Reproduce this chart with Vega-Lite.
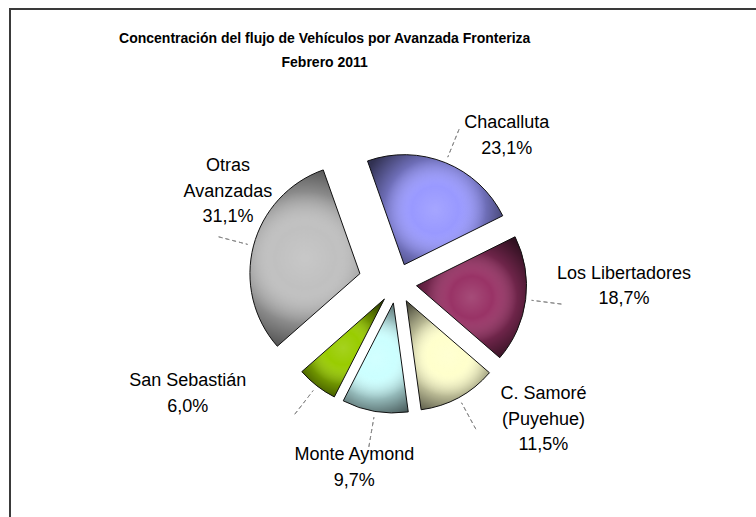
{
  "$schema": "https://vega.github.io/schema/vega-lite/v6.json",
  "width": 773.4,
  "height": 548.4,
  "autosize": {"type": "none"},
  "padding": {"left": 10, "top": 9, "right": -27.4, "bottom": -40.4},
  "background": "white",
  "view": {"stroke": "#3a3a3a", "strokeWidth": 2, "fill": null},
  "config": {"view": {"stroke": "#3a3a3a", "strokeWidth": 2}, "font": "Liberation Sans"},
  "title": {
    "text": ["Concentración del flujo de Vehículos por Avanzada Fronteriza", "Febrero 2011"],
    "font": "Liberation Sans",
    "fontSize": 14,
    "fontWeight": "bold",
    "color": "black",
    "anchor": "middle",
    "frame": "group",
    "dx": -72,
    "dy": 65,
    "lineHeight": 24
  },
  "data": {
    "values": [
      {"avanzada": "Chacalluta", "etiqueta": "Chacalluta", "pct": 23.1, "orden": 1},
      {"avanzada": "Los Libertadores", "etiqueta": "Los Libertadores", "pct": 18.7, "orden": 2},
      {"avanzada": "C. Samoré (Puyehue)", "etiqueta": "C. Samoré\n(Puyehue)", "pct": 11.5, "orden": 3},
      {"avanzada": "Monte Aymond", "etiqueta": "Monte Aymond", "pct": 9.7, "orden": 4},
      {"avanzada": "San Sebastián", "etiqueta": "San Sebastián", "pct": 6.0, "orden": 5},
      {"avanzada": "Otras Avanzadas", "etiqueta": "Otras\nAvanzadas", "pct": 31.1, "orden": 6}
    ]
  },
  "transform": [
    {"stack": "pct", "groupby": [], "sort": [{"field": "orden", "order": "ascending"}], "as": ["p0", "p1"]},
    {"calculate": "(datum.p0 + datum.p1) / 2", "as": "pm"},
    {"calculate": "datum.etiqueta + '\\n' + replace(format(datum.pct, '.1f'), '.', ',') + '%'", "as": "rotulo"}
  ],
  "layer": [
    {
      "mark": {
        "type": "arc",
        "radius": 110,
        "xOffset": {"expr": "sin(-0.34 + 2*PI*datum.pm/100.1) * (datum.avanzada === 'Otras Avanzadas' ? 38 : 20)"},
        "yOffset": {"expr": "-cos(-0.34 + 2*PI*datum.pm/100.1) * (datum.avanzada === 'Otras Avanzadas' ? 38 : 20)"}
      },
      "encoding": {
        "theta": {"field": "p0", "type": "quantitative", "scale": {"domain": [0, 100.1], "range": [-0.34, 5.9432]}},
        "theta2": {"field": "p1"},
        "color": {
          "field": "avanzada",
          "type": "nominal",
          "legend": null,
          "scale": {
            "domain": ["Chacalluta", "Los Libertadores", "C. Samoré (Puyehue)", "Monte Aymond", "San Sebastián", "Otras Avanzadas"],
            "range": ["#9999FF", "#993366", "#FFFFCC", "#CCFFFF", "#99CC00", "#C0C0C0"]
          }
        }
      }
    },
    {
      "mark": {
        "type": "arc",
        "radius": 110,
        "stroke": "#111111",
        "strokeWidth": 1,
        "fill": {
          "gradient": "radial",
          "x1": 0.5, "y1": 0.5, "r1": 0,
          "x2": 0.5, "y2": 0.5, "r2": 0.58,
          "stops": [
            {"offset": 0, "color": "rgba(255,255,255,0.12)"},
            {"offset": 0.3, "color": "rgba(255,255,255,0)"},
            {"offset": 0.65, "color": "rgba(0,0,0,0.28)"},
            {"offset": 1, "color": "rgba(0,0,0,0.68)"}
          ]
        },
        "xOffset": {"expr": "sin(-0.34 + 2*PI*datum.pm/100.1) * (datum.avanzada === 'Otras Avanzadas' ? 38 : 20)"},
        "yOffset": {"expr": "-cos(-0.34 + 2*PI*datum.pm/100.1) * (datum.avanzada === 'Otras Avanzadas' ? 38 : 20)"}
      },
      "encoding": {
        "theta": {"field": "p0", "type": "quantitative", "scale": {"domain": [0, 100.1], "range": [-0.34, 5.9432]}},
        "theta2": {"field": "p1"}
      }
    },
    {
      "mark": {
        "type": "arc",
        "radius": 146,
        "radius2": 116,
        "fill": null,
        "stroke": "#8c8c8c",
        "strokeWidth": 1,
        "strokeDash": [4, 3],
        "xOffset": {"expr": "sin(-0.34 + 2*PI*datum.pm/100.1) * (datum.avanzada === 'Otras Avanzadas' ? 38 : 20)"},
        "yOffset": {"expr": "-cos(-0.34 + 2*PI*datum.pm/100.1) * (datum.avanzada === 'Otras Avanzadas' ? 38 : 20)"}
      },
      "encoding": {
        "theta": {"field": "pm", "type": "quantitative", "scale": {"domain": [0, 100.1], "range": [-0.34, 5.9432]}},
        "theta2": {"field": "pm"}
      }
    },
    {
      "mark": {
        "type": "text",
        "radius": 185,
        "lineBreak": "\n",
        "fontSize": 18,
        "lineHeight": 25.5,
        "align": "center",
        "baseline": "middle",
        "color": "black",
        "xOffset": {"expr": "sin(-0.34 + 2*PI*datum.pm/100.1) * (datum.avanzada === 'Otras Avanzadas' ? 38 : 20)"},
        "yOffset": {"expr": "-cos(-0.34 + 2*PI*datum.pm/100.1) * (datum.avanzada === 'Otras Avanzadas' ? 38 : 20)"},
        "dx": {"expr": "datum.orden === 1 ? 33 : datum.orden === 2 ? 24 : datum.orden === 3 ? 49 : datum.orden === 4 ? -8 : datum.orden === 5 ? -83 : 47"},
        "dy": {"expr": "datum.orden === 1 ? 30 : datum.orden === 2 ? -35 : datum.orden === 3 ? -69 : datum.orden === 4 ? -30 : datum.orden === 5 ? -64 : -61"}
      },
      "encoding": {
        "theta": {"field": "pm", "type": "quantitative", "scale": {"domain": [0, 100.1], "range": [-0.34, 5.9432]}},
        "text": {"field": "rotulo", "type": "nominal"}
      }
    }
  ]
}
